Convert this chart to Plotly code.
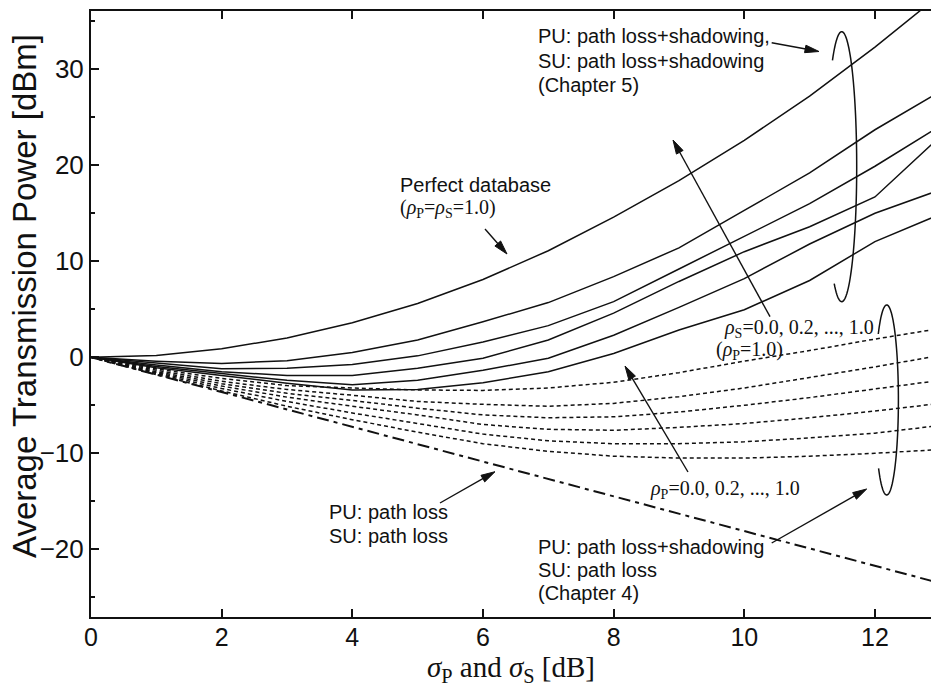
import numpy as np
import plotly.graph_objects as go

# Shadowing standard deviation sigma_P = sigma_S [dB]
sigma_db = [0, 1, 2, 3, 4, 5, 6, 7, 8, 9, 10, 11, 12, 13]

# Chapter 5: PU and SU with path loss + shadowing
perfect_db = [0, 0.2, 0.9, 2.0, 3.6, 5.6, 8.1, 11.1, 14.6, 18.4, 22.6, 27.2, 32.3, 37.8]   # rho_P = rho_S = 1.0
ch5_rs08 = [0, -0.4, -0.65, -0.35, 0.5, 1.8, 3.7, 5.7, 8.4, 11.4, 15.3, 19.2, 23.7, 27.7]
ch5_rs06 = [0, -0.6, -1.2, -1.15, -0.75, 0.15, 1.6, 3.3, 5.8, 9.2, 12.6, 16.0, 19.9, 24.1]
ch5_rs04 = [0, -0.8, -1.5, -1.9, -1.9, -1.15, -0.1, 1.8, 4.6, 7.9, 11.0, 13.6, 16.7, 23.0]
ch5_rs02 = [0, -0.95, -1.7, -2.4, -2.85, -2.4, -1.35, -0.1, 2.3, 5.2, 8.2, 11.8, 15.0, 17.45]
ch5_rs00 = [0, -1.1, -1.9, -2.7, -3.4, -3.35, -2.65, -1.5, 0.4, 2.85, 4.95, 8.0, 12.05, 14.9]

# Chapter 4: PU with path loss + shadowing, SU with path loss only
ch4_rp10 = [0, -1.2, -2.2, -2.95, -3.2, -3.4, -3.45, -3.2, -2.6, -1.6, -0.4, 0.7, 1.9, 3.0]
ch4_rp08 = [0, -1.35, -2.5, -3.35, -3.95, -4.6, -4.9, -5.1, -4.8, -4.1, -3.2, -2.1, -1.0, 0.2]
ch4_rp06 = [0, -1.5, -2.75, -3.75, -4.5, -5.3, -6.0, -6.3, -6.2, -5.7, -5.0, -4.2, -3.3, -2.4]
ch4_rp04 = [0, -1.6, -3.0, -4.15, -5.1, -6.0, -7.0, -7.5, -7.6, -7.3, -6.9, -6.3, -5.6, -4.8]
ch4_rp02 = [0, -1.7, -3.25, -4.6, -5.8, -6.9, -8.0, -8.7, -9.0, -9.0, -8.8, -8.4, -7.9, -7.1]
ch4_rp00 = [0, -1.8, -3.5, -5.1, -6.5, -7.8, -9.0, -9.8, -10.3, -10.5, -10.5, -10.3, -10.0, -9.6]

# PU and SU with path loss only
path_loss_only = [0, -1.81, -3.62, -5.43, -7.24, -9.05, -10.86, -12.67, -14.48, -16.29, -18.1, -19.91, -21.72, -23.53]

x_ticks = [0, 2, 4, 6, 8, 10, 12]
y_ticks = [-20, -10, 0, 10, 20, 30]
y_minor_ticks = [-25, -15, -5, 5, 15, 25, 35]

# Figure geometry (pixels)
W, H = 931, 690
ML, MR, MT, MB = 91, 0, 11, 73
X_RANGE = [0, 12.858]
Y_RANGE = [-27.05, 36.07]
PW, PH = W - ML - MR, H - MT - MB

SANS = "Liberation Sans, Arial, sans-serif"
SERIF = "Liberation Serif, Times New Roman, serif"
INK = "#111111"


def xd(px):
    return X_RANGE[0] + (px - ML) / PW * (X_RANGE[1] - X_RANGE[0])


def yd(py):
    return Y_RANGE[1] - (py - MT) / PH * (Y_RANGE[1] - Y_RANGE[0])


def path_from_px(points, close=False):
    s = "M " + " L ".join(f"{xd(a):.4f},{yd(b):.4f}" for a, b in points)
    return s + (" Z" if close else "")


fig = go.Figure()

solid = [perfect_db, ch5_rs08, ch5_rs06, ch5_rs04, ch5_rs02, ch5_rs00]
for ys in solid:
    fig.add_trace(go.Scatter(x=sigma_db, y=ys, mode="lines",
                             line=dict(color=INK, width=1.5), showlegend=False))

dotted = [ch4_rp10, ch4_rp08, ch4_rp06, ch4_rp04, ch4_rp02, ch4_rp00]
for ys in dotted:
    fig.add_trace(go.Scatter(x=sigma_db, y=ys, mode="lines",
                             line=dict(color=INK, width=1.5, dash="4px,3px"),
                             showlegend=False))

fig.add_trace(go.Scatter(x=sigma_db, y=path_loss_only, mode="lines",
                         line=dict(color=INK, width=2, dash="12px,5px,4px,5px"),
                         showlegend=False))


# Open ellipses grouping the curve families
def open_ellipse(cx, cy, rx, ry, t0, t1):
    t = np.radians(np.linspace(t0, t1, 90))
    return path_from_px(zip(cx + rx * np.cos(t), cy - ry * np.sin(t)))


fig.add_shape(type="path", path=open_ellipse(841.7, 166.7, 15, 135, 128, -120),
              xref="x", yref="y", line=dict(color=INK, width=1.5))
fig.add_shape(type="path", path=open_ellipse(886.7, 400, 11.7, 95, 136, -134),
              xref="x", yref="y", line=dict(color=INK, width=1.5))

# Pointer arrows: (tail px, head px)
arrows = [
    ((771.7, 42.7), (819, 51.5)),
    ((485, 229), (507, 254)),
    ((770, 316.7), (673, 140)),
    ((688, 472), (625, 366)),
    ((771.7, 543), (866.7, 489)),
    ((440, 503), (495, 471.7)),
]
HEAD_LEN, HEAD_HALF = 14.0, 3.8
for (tx, ty), (hx, hy) in arrows:
    ux, uy = hx - tx, hy - ty
    n = (ux ** 2 + uy ** 2) ** 0.5
    ux, uy = ux / n, uy / n
    bx, by = hx - HEAD_LEN * ux, hy - HEAD_LEN * uy
    fig.add_shape(type="path", path=path_from_px([(tx, ty), (bx + 2 * ux, by + 2 * uy)]),
                  xref="x", yref="y", line=dict(color=INK, width=1.4))
    tri = [(hx, hy), (bx - HEAD_HALF * uy, by + HEAD_HALF * ux),
           (bx + HEAD_HALF * uy, by - HEAD_HALF * ux)]
    fig.add_shape(type="path", path=path_from_px(tri, close=True), xref="x", yref="y",
                  line=dict(color=INK, width=1), fillcolor=INK)


def label(px, baseline, text, font, size):
    fig.add_annotation(x=xd(px), y=yd(baseline - 0.35 * size), xref="x", yref="y",
                       text=text, showarrow=False, xanchor="left", yanchor="middle",
                       font=dict(family=font, size=size, color=INK))


label(536, 43.3, "PU: path loss+shadowing,", SANS, 20)
label(536, 68.3, "SU: path loss+shadowing", SANS, 20)
label(536, 92, "(Chapter 5)", SANS, 20)

label(398, 192, "Perfect database", SANS, 20)
label(398, 215, "(<i>ρ</i><sub>P</sub>=<i>ρ</i><sub>S</sub>=1.0)", SERIF, 20)

label(721.7, 335, "<i>ρ</i><sub>S</sub>=0.0, 0.2, ..., 1.0", SERIF, 20)
label(714, 357, "(<i>ρ</i><sub>P</sub>=1.0)", SERIF, 20)

label(648, 496.7, "<i>ρ</i><sub>P</sub>=0.0, 0.2, ..., 1.0", SERIF, 20)

label(536, 553.5, "PU: path loss+shadowing", SANS, 20)
label(536, 577, "SU: path loss", SANS, 20)
label(536, 600, "(Chapter 4)", SANS, 20)

label(326.7, 519, "PU: path loss", SANS, 20)
label(326.7, 543, "SU: path loss", SANS, 20)

# Axis titles
fig.add_annotation(x=(24 - ML) / PW, y=1 - (296 - MT) / PH, xref="paper", yref="paper",
                   text="Average Transmission Power [dBm]", textangle=-90,
                   showarrow=False, xanchor="center", yanchor="middle",
                   font=dict(family=SANS, size=33, color=INK))
fig.add_annotation(x=(511 - ML) / PW, y=1 - (669 - MT) / PH, xref="paper", yref="paper",
                   text="<i>σ</i><sub>P</sub> and <i>σ</i><sub>S</sub> [dB]",
                   showarrow=False, xanchor="center", yanchor="middle",
                   font=dict(family=SERIF, size=29, color=INK))

fig.update_layout(
    width=W, height=H,
    margin=dict(l=ML, r=MR, t=MT, b=MB, pad=0),
    paper_bgcolor="white", plot_bgcolor="white",
    showlegend=False,
    font=dict(family=SANS, color=INK),
)

fig.update_xaxes(
    range=X_RANGE, tickmode="array", tickvals=x_ticks,
    ticks="inside", ticklen=8, tickwidth=1.5, tickcolor=INK,
    ticklabelstandoff=-3,
    showline=True, linewidth=2, linecolor=INK, mirror="ticks",
    showgrid=False, zeroline=False,
    tickfont=dict(family=SANS, size=25, color=INK),
)

fig.update_yaxes(
    range=Y_RANGE, tickmode="array", tickvals=y_ticks,
    ticks="inside", ticklen=8, tickwidth=1.5, tickcolor=INK,
    minor=dict(tickmode="array", tickvals=y_minor_ticks,
               ticks="inside", ticklen=4, tickwidth=1.5, tickcolor=INK),
    showline=True, linewidth=2, linecolor=INK, mirror=False,
    showgrid=False, zeroline=False,
    tickfont=dict(family=SANS, size=26, color=INK),
)

fig.write_html("out.html")
